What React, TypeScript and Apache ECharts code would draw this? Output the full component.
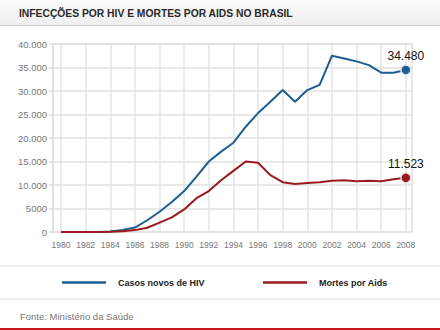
import React, { useEffect, useRef } from "react";
import * as echarts from "echarts";

const years = [1980, 1981, 1982, 1983, 1984, 1985, 1986, 1987, 1988, 1989, 1990, 1991, 1992, 1993, 1994, 1995, 1996, 1997, 1998, 1999, 2000, 2001, 2002, 2003, 2004, 2005, 2006, 2007, 2008];
const hivCases = [0, 0, 0, 0, 100, 450, 950, 2500, 4300, 6400, 8700, 11800, 15000, 17100, 19000, 22400, 25300, 27700, 30200, 27700, 30200, 31300, 37500, 36900, 36300, 35500, 33900, 33900, 34480];
const aidsDeaths = [0, 0, 0, 0, 50, 150, 400, 900, 2000, 3100, 4800, 7200, 8700, 11000, 13000, 15000, 14750, 12100, 10600, 10200, 10400, 10600, 10900, 11000, 10800, 10900, 10800, 11200, 11523];
const xTickYears = [1980, 1982, 1984, 1986, 1988, 1990, 1992, 1994, 1996, 1998, 2000, 2002, 2004, 2006, 2008];
const seriesNames = ["Casos novos de HIV", "Mortes por Aids"];
const title = "INFECÇÕES POR HIV E MORTES POR AIDS NO BRASIL";
const source = "Fonte: Ministério da Saúde";

const BLUE = "#1d5e91";
const RED = "#9a1a1f";
const FONT = "'Liberation Sans', Arial, sans-serif";

const dotted = (v: number) => String(Math.round(v)).replace(/\B(?=(\d{3})+(?!\d))/g, ".");

export default function App() {
  const ref = useRef<HTMLDivElement>(null);
  useEffect(() => {
    if (!ref.current) return;
    const chart = echarts.init(ref.current, null, { renderer: "svg" });
    const last = years.length - 1;
    const endLabel = { show: true, position: "top", distance: 2, color: "#111", fontSize: 12, formatter: (p: any) => dotted(p.value[1]) };
    chart.setOption({
      animation: false,
      backgroundColor: "#ffffff",
      textStyle: { fontFamily: FONT },
      grid: { left: 53, right: 28, top: 44, bottom: 98, show: true, borderColor: "#dedede", borderWidth: 1.5 },
      xAxis: {
        type: "value",
        min: 1979.35,
        max: 2008.5,
        axisLine: { show: false },
        axisTick: { show: false, customValues: xTickYears },
        axisLabel: { customValues: xTickYears, formatter: (v: number) => String(v), color: "#777", fontSize: 8.5, margin: 8 },
        splitLine: { show: true, lineStyle: { color: "#e4e4e4", width: 1.5 } },
      },
      yAxis: {
        type: "value",
        min: 0,
        max: 40000,
        interval: 5000,
        axisLine: { show: true, lineStyle: { color: "#dedede", width: 1.5 } },
        axisTick: { show: true, length: 4, lineStyle: { color: "#dedede", width: 1.5 } },
        axisLabel: { formatter: (v: number) => (v >= 10000 ? dotted(v) : String(v)), color: "#777", fontSize: 9.5, margin: 6 },
        splitLine: { show: true, lineStyle: { color: "#e0e0e0", width: 1.5 } },
      },
      legend: [
        {
          data: [seriesNames[0]], left: 57, top: 273, icon: "rect", itemWidth: 44, itemHeight: 2.5,
          textStyle: { color: "#222", fontSize: 9, fontWeight: "bold", padding: [0, 0, 0, 7] },
        },
        {
          data: [seriesNames[1]], left: 258, top: 273, icon: "rect", itemWidth: 44, itemHeight: 2.5,
          textStyle: { color: "#222", fontSize: 9, fontWeight: "bold", padding: [0, 0, 0, 7] },
        },
      ],
      series: [
        {
          name: seriesNames[0], type: "line", color: BLUE, symbol: "none",
          lineStyle: { width: 2, color: BLUE },
          data: years.map((y, i) => [y, hivCases[i]]),
        },
        {
          name: seriesNames[1], type: "line", color: RED, symbol: "none",
          lineStyle: { width: 2, color: RED },
          data: years.map((y, i) => [y, aidsDeaths[i]]),
        },
        {
          type: "scatter", symbolSize: 10, z: 5,
          itemStyle: { color: BLUE, borderColor: "#dfe8f0", borderWidth: 1.5, opacity: 1 },
          label: endLabel,
          data: [[years[last], hivCases[last]]],
        },
        {
          type: "scatter", symbolSize: 10, z: 5,
          itemStyle: { color: RED, borderColor: "#f0dfdf", borderWidth: 1.5, opacity: 1 },
          label: endLabel,
          data: [[years[last], aidsDeaths[last]]],
        },
      ],
      graphic: [
        {
          type: "rect", left: 0, top: 0, z: -1,
          shape: { width: 440, height: 25 },
          style: { fill: new echarts.graphic.LinearGradient(0, 0, 0, 1, [{ offset: 0, color: "#fbfbfb" }, { offset: 1, color: "#eeeeee" }]) },
        },
        { type: "line", shape: { x1: 0, y1: 25.5, x2: 440, y2: 25.5 }, style: { stroke: "#c8c8c8", lineWidth: 1 } },
        { type: "text", left: 19, top: 8, style: { text: title, fill: "#2a2a2a", font: `bold 10.3px ${FONT}` } },
        { type: "line", shape: { x1: 0, y1: 266, x2: 440, y2: 266 }, style: { stroke: "#dcdcdc", lineWidth: 1 } },
        { type: "line", shape: { x1: 0, y1: 299, x2: 440, y2: 299 }, style: { stroke: "#dcdcdc", lineWidth: 1 } },
        { type: "text", left: 20, top: 311, style: { text: source, fill: "#777", font: `9.5px ${FONT}` } },
        { type: "rect", left: 0, top: 328, shape: { width: 440, height: 2 }, style: { fill: "#c8191f" } },
      ],
    });
    return () => chart.dispose();
  }, []);
  return <div ref={ref} style={{ position: "absolute", left: 0, top: 0, width: 440, height: 330 }} />;
}
